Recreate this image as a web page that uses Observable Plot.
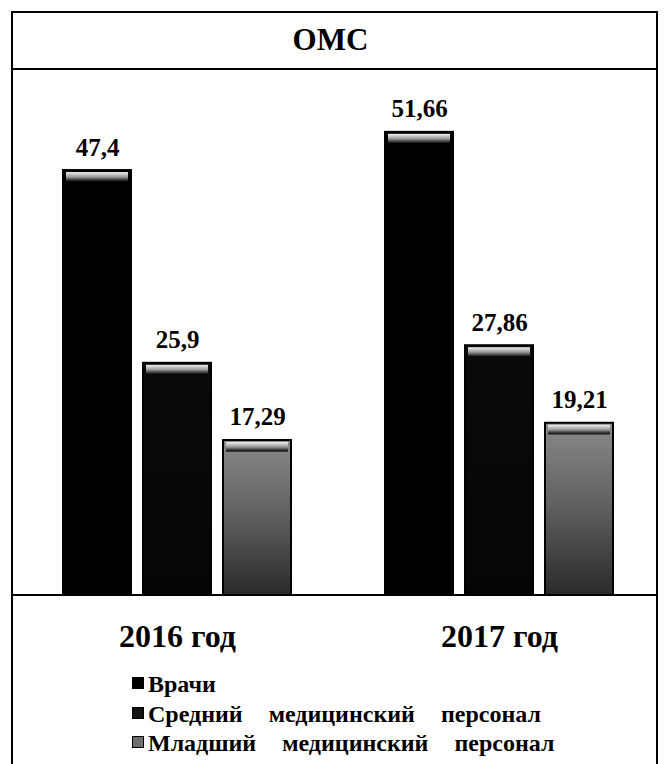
<!DOCTYPE html>
<html>
<head>
<meta charset="utf-8">
<script src="https://cdn.jsdelivr.net/npm/d3@7"></script>
<script src="https://cdn.jsdelivr.net/npm/@observablehq/plot@0.6"></script>
<style>
  html, body { margin: 0; padding: 0; background: #fff; }
  #wrap { position: relative; width: 667px; height: 764px; overflow: hidden; background: #fff;
          font-family: 'Liberation Serif'; font-weight: bold; color: #000; }
  #frame { position: absolute; left: 11px; top: 11px; width: 647px; height: 800px;
           border: 2px solid #000; box-sizing: border-box; pointer-events: none; }
  #title { position: absolute; left: 13px; top: 13px; width: 643px; height: 57px; box-sizing: border-box;
           border-bottom: 2px solid #000; padding-top: 11px; padding-right: 8px;
           font-family: 'Liberation Serif'; font-size: 31px; line-height: 31px; text-align: center; }
  #chart { position: absolute; left: 0; top: 70px; }
  #sep { position: absolute; left: 13px; top: 594px; width: 643px; height: 2px; background: #000; }
  #legend { position: absolute; left: 132px; top: 670px; font-family: 'Liberation Serif'; font-size: 24px;
            line-height: 29.5px; word-spacing: 20px; white-space: nowrap; }
  .sw { display: inline-block; width: 12px; height: 12px; box-sizing: border-box; border: 1px solid #000;
        vertical-align: 3px; margin-right: 4px; }
</style>
</head>
<body>
<div id="wrap">
  <div id="title">ОМС</div>
  <div id="chart"></div>
  <div id="sep"></div>
  <div id="legend"></div>
  <div id="frame"></div>
</div>
<script>
const years = ["2016 год", "2017 год"];
const series = ["Врачи", "Средний медицинский персонал", "Младший медицинский персонал"];
const values2016 = [47.4, 25.9, 17.29];
const values2017 = [51.66, 27.86, 19.21];
const seriesFills = ["url(#gBlack)", "url(#gBlack2)", "url(#gGrey)"];
const swatchColors = ["#000", "#111", "#6e6e6e"];

const valuesByYear = [values2016, values2017];
const data = years.flatMap((yr, i) => series.map((s, j) => ({year: yr, series: s, value: valuesByYear[i][j]})));
const fmt = v => String(v).replace(".", ",");
const FONT = "Liberation Serif";

const chart = Plot.plot({
  width: 667,
  height: 595,
  marginTop: 5,
  marginBottom: 70,
  marginLeft: 15,
  marginRight: 7,
  style: {fontFamily: FONT, fontWeight: "bold", color: "#000", background: "transparent"},
  fx: {domain: years, padding: 0},
  x: {domain: series, paddingInner: 0.155, paddingOuter: 0.578, axis: null},
  y: {domain: [0, 58], axis: null},
  color: {domain: series, range: seriesFills},
  marks: [
    Plot.barY(data, {fx: "year", x: "series", y: "value", fill: "series", stroke: "#000", strokeWidth: 2}),
    Plot.barY(data, {fx: "year", x: "series", y1: d => d.value - 1.3, y2: "value", fill: "url(#gCap)",
                     insetLeft: 3, insetRight: 3, insetTop: 2}),
    Plot.text(data, {fx: "year", x: "series", y: "value", text: d => fmt(d.value), dy: -23,
                     lineAnchor: "middle", fontSize: 25, fontWeight: "bold", fontFamily: FONT, fill: "#000"}),
    Plot.axisFx({anchor: "bottom", tickSize: 0, tickPadding: 29, fontSize: 32, fontWeight: "bold",
                 fontFamily: FONT, label: null, fill: "#000"})
  ]
});

const svg = d3.select(chart.tagName.toLowerCase() === "svg" ? chart : chart.querySelector("svg"));
const defs = svg.insert("defs", ":first-child");
function grad(id, stops) {
  const g = defs.append("linearGradient").attr("id", id).attr("x1", 0).attr("y1", 0).attr("x2", 0).attr("y2", 1);
  stops.forEach(([o, c]) => g.append("stop").attr("offset", o).attr("stop-color", c));
}
grad("gBlack", [[0, "#000"], [1, "#000"]]);
grad("gBlack2", [[0, "#0a0a0a"], [1, "#050505"]]);
grad("gGrey", [[0, "#8a8a8a"], [0.5, "#5e5e5e"], [1, "#2a2a2a"]]);
grad("gCap", [[0, "#f0f0f0"], [0.5, "#9a9a9a"], [1, "#000"]]);

document.getElementById("chart").appendChild(chart);

const legend = document.getElementById("legend");
series.forEach((s, i) => {
  const row = document.createElement("div");
  const sw = document.createElement("span");
  sw.className = "sw";
  sw.style.background = swatchColors[i];
  row.appendChild(sw);
  row.appendChild(document.createTextNode(s));
  legend.appendChild(row);
});

// force style and layout so the serif font is resolved before the page is photographed
getComputedStyle(document.getElementById("title")).fontFamily;
getComputedStyle(svg.select("text").node()).fontFamily;
for (const s of document.styleSheets) { try { Array.from(s.cssRules).forEach(r => r.cssText); } catch (e) {} }
void document.body.offsetHeight;
if (document.fonts && document.fonts.load) {
  document.fonts.load("bold 24px 'Liberation Serif'", "ОМС 2016 год").then(() => { void document.body.offsetHeight; });
}
</script>
</body>
</html>
